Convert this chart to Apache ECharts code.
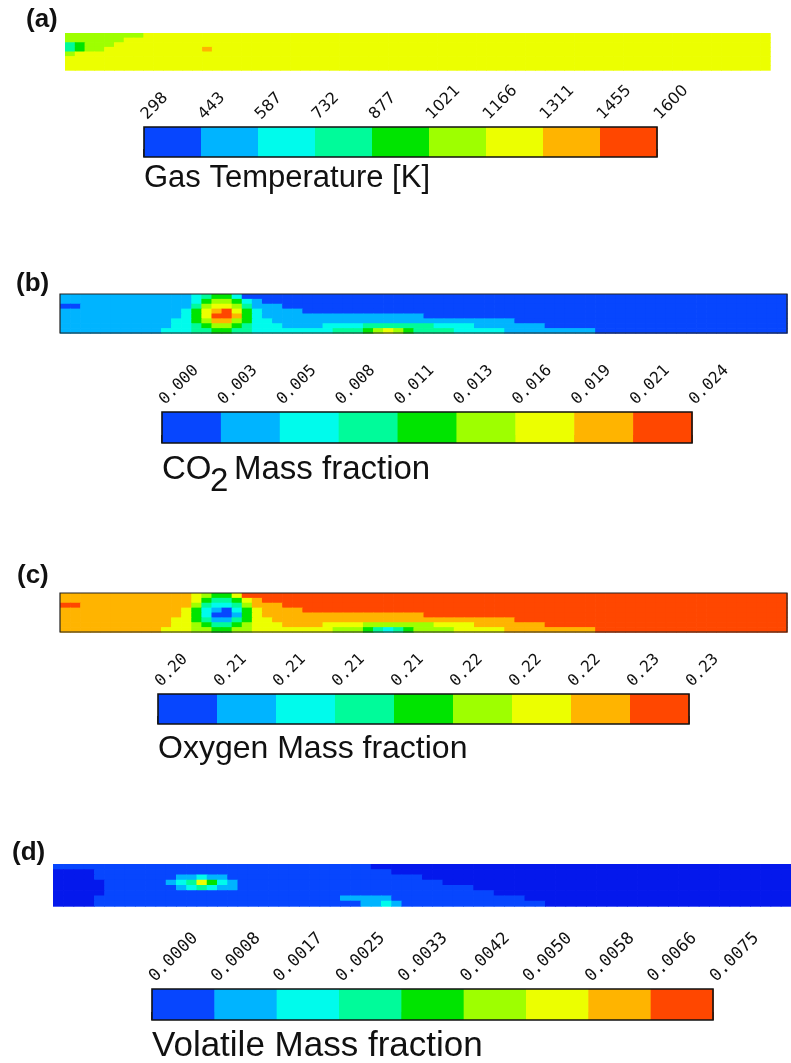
<!DOCTYPE html>
<html>
<head>
<meta charset="utf-8">
<script src="https://cdn.jsdelivr.net/npm/echarts@6/dist/echarts.min.js"></script>
<style>
  html, body { margin: 0; padding: 0; background: #ffffff; }
  #chart { width: 791px; height: 1063px; }
</style>
</head>
<body>
<div id="chart"></div>
<script>
// Colour bands shared by all four contour plots (9 levels, blue -> red)
const bandIndex = [0, 1, 2, 3, 4, 5, 6, 7, 8];
const bandColors = ['#0746fe', '#00b4ff', '#00fbec', '#00fb9a', '#00e400', '#9eff00', '#ecff00', '#ffb400', '#ff4700'];
const underColor = '#0418ec';

// Colour-bar tick labels
const tempTicks = ['298', '443', '587', '732', '877', '1021', '1166', '1311', '1455', '1600'];
const co2Ticks = ['0.000', '0.003', '0.005', '0.008', '0.011', '0.013', '0.016', '0.019', '0.021', '0.024'];
const o2Ticks = ['0.20', '0.21', '0.21', '0.21', '0.21', '0.22', '0.22', '0.22', '0.23', '0.23'];
const volTicks = ['0.0000', '0.0008', '0.0017', '0.0025', '0.0033', '0.0042', '0.0050', '0.0058', '0.0066', '0.0075'];

// Contour fields along the furnace: one string per row (top row first),
// one character per column giving the colour band; 'u' = below range.
const fieldTemperature = [
  '555555556666 666666666666 666666666666 666666666666 666666666666 666666666666',
  '555555666666 666666666666 666666666666 666666666666 666666666666 666666666666',
  '345556666666 666666666666 666666666666 666666666666 666666666666 666666666666',
  '345566666666 667666666666 666666666666 666666666666 666666666666 666666666666',
  '566666666666 666666666666 666666666666 666666666666 666666666666 666666666666',
  '666666666666 666666666666 666666666666 666666666666 666666666666 666666666666',
  '666666666666 666666666666 666666666666 666666666666 666666666666 666666666666',
  '666666666666 666666666666 666666666666 666666666666 666666666666 666666666666'
];
const fieldCO2 = [
  '111111111111 123442000000 000000000000 000000000000 000000000000 000000000000',
  '111111111111 124554210000 000000000000 000000000000 000000000000 000000000000',
  '001111111111 135665311100 000000000000 000000000000 000000000000 000000000000',
  '111111111111 246786421111 000000000000 000000000000 000000000000 000000000000',
  '111111111111 246887421111 111111111111 000000000000 000000000000 000000000000',
  '111111111112 245775422111 111111111111 111111111000 000000000000 000000000000',
  '111111111112 234554322211 112222333333 322221111111 000000000000 000000000000',
  '111111111122 233443322222 222333456543 333222221111 111110000000 000000000000'
];
const fieldO2 = [
  '777777777777 765446888888 888888888888 888888888888 888888888888 888888888888',
  '777777777777 764334678888 888888888888 888888888888 888888888888 888888888888',
  '887777777777 753223577788 888888888888 888888888888 888888888888 888888888888',
  '777777777777 642102467777 888888888888 888888888888 888888888888 888888888888',
  '777777777777 642001467777 777777777777 888888888888 888888888888 888888888888',
  '777777777776 643113466777 777777777777 777777777888 888888888888 888888888888',
  '777777777776 654334566677 776666555555 566667777777 888888888888 888888888888',
  '777777777766 655445566666 666555432345 555666667777 777778888888 888888888888'
];
const fieldVolatile = [
  '000000000000 000000000000 0000000uuuuu uuuuuuuuuuuu uuuuuuuuuuuu uuuuuuuuuuuu',
  'uuuu00000000 000000000000 000000000uuu uuuuuuuuuuuu uuuuuuuuuuuu uuuuuuuuuuuu',
  'uuuu00000000 112110000000 000000000000 uuuuuuuuuuuu uuuuuuuuuuuu uuuuuuuuuuuu',
  'uuuuu0000001 236421000000 000000000000 00uuuuuuuuuu uuuuuuuuuuuu uuuuuuuuuuuu',
  'uuuuu0000000 123211000000 000000000000 00000uuuuuuu uuuuuuuuuuuu uuuuuuuuuuuu',
  'uuuuu0000000 000000000000 000000000000 0000000uuuuu uuuuuuuuuuuu uuuuuuuuuuuu',
  'uuuu00000000 000000000000 000011111000 0000000000uu uuuuuuuuuuuu uuuuuuuuuuuu',
  'uuuu00000000 000000000000 000000112100 000000000000 uuuuuuuuuuuu uuuuuuuuuuuu'
];

// ---- layout of the four panels ----
const panels = [
  { field: fieldTemperature, ticks: tempTicks,
    strip: { left: 65, top: 33, width: 705, height: 37 }, stripBorder: 0,
    bar: { left: 144, top: 127, width: 513, height: 30 },
    tickFont: 'DejaVu Sans', tickSize: 16 },
  { field: fieldCO2, ticks: co2Ticks,
    strip: { left: 60, top: 294, width: 727, height: 39 }, stripBorder: 1.2,
    bar: { left: 162, top: 412, width: 530, height: 31 },
    tickFont: 'DejaVu Sans Mono', tickSize: 16 },
  { field: fieldO2, ticks: o2Ticks,
    strip: { left: 60, top: 593, width: 727, height: 39 }, stripBorder: 1.2,
    bar: { left: 158, top: 694, width: 531, height: 30 },
    tickFont: 'DejaVu Sans Mono', tickSize: 16 },
  { field: fieldVolatile, ticks: volTicks,
    strip: { left: 53, top: 864, width: 738, height: 42 }, stripBorder: 0,
    bar: { left: 152, top: 989, width: 561, height: 31 },
    tickFont: 'DejaVu Sans Mono', tickSize: 17 }
];

function parseField(rows) {
  const data = [];
  rows.forEach(function (row, r) {
    row.replace(/\s/g, '').split('').forEach(function (ch, c) {
      data.push([c, r, ch === 'u' ? -1 : Number(ch)]);
    });
  });
  return data;
}

function levelColor(v) { return v < 0 ? underColor : bandColors[v]; }

const grids = [], xAxes = [], yAxes = [], series = [];

// contour strips: one cell per (column, row) on value axes
panels.forEach(function (p, k) {
  const nCols = p.field[0].replace(/\s/g, '').length;
  const nRows = p.field.length;
  grids.push(Object.assign({
    show: p.stripBorder > 0, borderColor: '#222', borderWidth: p.stripBorder,
    backgroundColor: 'transparent', z: 10
  }, p.strip));
  xAxes.push({ type: 'value', gridIndex: k, show: false, min: 0, max: nCols });
  yAxes.push({ type: 'value', gridIndex: k, show: false, min: 0, max: nRows, inverse: true });
  series.push({
    type: 'custom', xAxisIndex: k, yAxisIndex: k, silent: true,
    data: parseField(p.field),
    renderItem: function (params, api) {
      const c = api.value(0), r = api.value(1), v = api.value(2);
      const a = api.coord([c, r]);
      const b = api.coord([c + 1, r + 1]);
      return {
        type: 'rect',
        shape: { x: a[0], y: a[1], width: b[0] - a[0] + 0.7, height: b[1] - a[1] + 0.7 },
        style: { fill: levelColor(v) }
      };
    }
  });
});

// colour bars
panels.forEach(function (p, k) {
  const g = 4 + k;
  grids.push(Object.assign({
    show: true, borderColor: '#111', borderWidth: 1.6,
    backgroundColor: 'transparent', z: 10
  }, p.bar));
  xAxes.push({
    type: 'value', gridIndex: g, position: 'top', min: 0, max: 9, interval: 1,
    axisLine: { show: false },
    axisTick: { show: true, length: 8, lineStyle: { color: '#111', width: 1.5 } },
    splitLine: { show: false },
    axisLabel: {
      rotate: 45, margin: 10, color: '#111',
      fontFamily: p.tickFont, fontSize: p.tickSize,
      formatter: function (v) { return p.ticks[Math.round(v)]; }
    }
  });
  yAxes.push({ type: 'value', gridIndex: g, min: 0, max: 1, show: false });
  series.push({
    type: 'custom', xAxisIndex: g, yAxisIndex: g, silent: true,
    data: bandIndex.map(function (i) { return [i, 0]; }),
    renderItem: function (params, api) {
      const i = api.value(0);
      const a = api.coord([i, 1]);
      const b = api.coord([i + 1, 0]);
      return {
        type: 'rect',
        shape: { x: a[0], y: a[1], width: b[0] - a[0] + 0.6, height: b[1] - a[1] },
        style: { fill: bandColors[i] }
      };
    }
  });
});

function txt(x, y, text, font) {
  return { type: 'text', x: x, y: y, silent: true,
    style: { text: text, font: font, fill: '#111', textVerticalAlign: 'middle' } };
}
const labelFont = 'bold 26px "Liberation Sans"';
const graphics = [
  txt(26, 20, '(a)', labelFont),
  txt(16, 284, '(b)', labelFont),
  txt(17, 576, '(c)', labelFont),
  txt(12, 853, '(d)', labelFont),
  txt(144, 178, 'Gas Temperature [K]', '31px "Liberation Sans"'),
  txt(162, 470, 'CO', '33px "Liberation Sans"'),
  txt(210, 482, '2', '33px "Liberation Sans"'),
  txt(234, 470, 'Mass fraction', '33px "Liberation Sans"'),
  txt(158, 749, 'Oxygen Mass fraction', '32px "Liberation Sans"'),
  txt(152, 1046, 'Volatile Mass fraction', '35px "Liberation Sans"')
];

const chart = echarts.init(document.getElementById('chart'), null, { renderer: 'canvas' });
chart.setOption({
  animation: false,
  backgroundColor: '#ffffff',
  grid: grids,
  xAxis: xAxes,
  yAxis: yAxes,
  series: series,
  graphic: graphics
});
</script>
</body>
</html>
